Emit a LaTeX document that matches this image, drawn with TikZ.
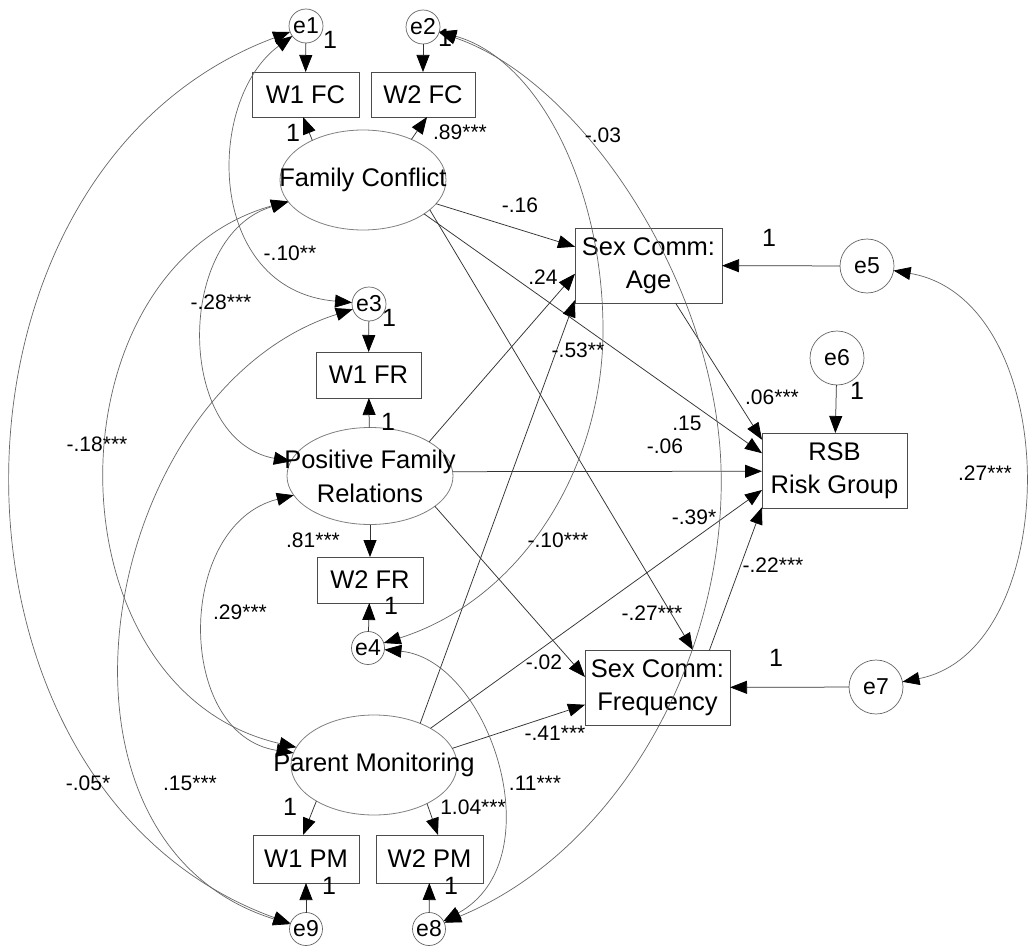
\documentclass[tikz,border=0pt]{standalone}
\usepackage{fontspec}
\setmainfont{Liberation Sans}
\usetikzlibrary{arrows.meta,shapes.geometric,calc}
\begin{document}
\begin{tikzpicture}[x=1pt,y=-1pt,
  >={Triangle[length=17pt,width=13pt,color=black]},
  obs/.style={draw=black!70, line width=0.8pt, rectangle, inner sep=0pt, outer sep=0pt, align=center, font=\fontsize{25.5}{33}\selectfont},
  lat/.style={draw=black!50, line width=0.8pt, ellipse, minimum width=166pt, minimum height=100pt, inner sep=0pt, outer sep=0pt},
  lab/.style={inner sep=0pt, align=center, font=\fontsize{25.5}{34}\selectfont},
  err/.style={draw=black!60, line width=0.7pt, circle, inner sep=0pt, outer sep=0pt},
  elab/.style={inner sep=0pt, font=\fontsize{23}{26}\selectfont},
  reg/.style={->, draw=black!80, line width=0.75pt},
  cov/.style={<->, draw=black!60, line width=0.7pt},
  coef/.style={inner sep=0pt, font=\fontsize{21}{24}\selectfont},
  fix/.style={inner sep=0pt, font=\fontsize{25}{28}\selectfont}]
\path[use as bounding box, fill=white] (0,0) rectangle (1028,947);

% observed boxes
\node[obs, minimum width=107pt, minimum height=45pt] (W1FC) at (305.5,94.5) {W1 FC};
\node[obs, minimum width=104pt, minimum height=45pt] (W2FC) at (423,94.5) {W2 FC};
\node[obs, minimum width=105pt, minimum height=46pt] (W1FR) at (368.5,375) {W1 FR};
\node[obs, minimum width=106pt, minimum height=46pt] (W2FR) at (370,580) {W2 FR};
\node[obs, minimum width=106pt, minimum height=48pt] (W1PM) at (306,859) {W1 PM};
\node[obs, minimum width=107pt, minimum height=48pt] (W2PM) at (429.5,859) {W2 PM};
\node[obs, minimum width=147pt, minimum height=75pt] (Age) at (648.5,265.5) {Sex Comm:\\Age};
\node[obs, minimum width=145pt, minimum height=75pt] (RSB) at (834.5,470.5) {RSB\\Risk Group};
\node[obs, minimum width=145pt, minimum height=75pt] (Freq) at (657.5,687.5) {Sex Comm:\\Frequency};

% latent ellipses
\node[lat, label={[lab]center:Family Conflict}] (FC) at (363,180) {};
\node[lat, minimum height=97pt, label={[lab]center:{Positive Family\\Relations}}] (PFR) at (370,476) {};
\node[lat, label={[lab]center:Parent Monitoring}] (PM) at (374,765) {};

% error terms
\node[err, minimum size=34pt, label={[elab]center:e1}] (e1) at (306,26) {};
\node[err, minimum size=34pt, label={[elab]center:e2}] (e2) at (423,27) {};
\node[err, minimum size=34pt, label={[elab]center:e3}] (e3) at (369,304) {};
\node[err, minimum size=33pt, label={[elab]center:e4}] (e4) at (368,648) {};
\node[err, minimum size=33pt, label={[elab]center:e9}] (e9) at (306,929) {};
\node[err, minimum size=33pt, label={[elab]center:e8}] (e8) at (429,929) {};
\node[err, minimum size=54pt, label={[elab]center:e5}] (e5) at (867,266) {};
\node[err, minimum size=54pt, label={[elab]center:e6}] (e6) at (837,358) {};
\node[err, minimum size=54pt, label={[elab]center:e7}] (e7) at (876,687) {};

% measurement paths
\draw[reg] (e1) -- (W1FC);
\draw[reg] (e2) -- (W2FC);
\draw[reg] (FC.142) -- ($(W1FC.south)+(-2.5,0)$);
\draw[reg] (FC.40) -- ($(W2FC.south)+(4,0)$);
\draw[reg] (e3) -- (W1FR);
\draw[reg] (PFR) -- (W1FR);
\draw[reg] (PFR) -- (W2FR);
\draw[reg] (e4) -- (W2FR);
\draw[reg] (PM.-148) -- ($(W1PM.north)+(-3,0)$);
\draw[reg] (PM.-36) -- ($(W2PM.north)+(8.5,0)$);
\draw[reg] (e9) -- (W1PM);
\draw[reg] (e8) -- (W2PM);
\draw[reg] (e5) -- (Age);
\draw[reg] (e6) -- (RSB);
\draw[reg] (e7) -- (Freq);

% structural paths
\draw[reg] (FC.-18) -- ($(Age.north west)!0.25!(Age.south west)$);
\draw[reg] (FC.-29) -- ($(RSB.north west)!0.27!(RSB.south west)$);
\draw[reg] (FC.-24) -- ($(Freq.north west)!0.745!(Freq.north east)$);
\draw[reg] (PFR.30) -- ($(Age.north west)!0.61!(Age.south west)$);
\draw[reg] (PFR.3) -- ($(RSB.north west)!0.51!(RSB.south west)$);
\draw[reg] (PFR.-25) -- ($(Freq.north west)!0.36!(Freq.south west)$);
\draw[reg] (PM.42) -- ($(Age.north west)!0.96!(Age.south west)$);
\draw[reg] (PM.33) -- ($(RSB.north west)!0.76!(RSB.south west)$);
\draw[reg] (PM.12) -- ($(Freq.north west)!0.73!(Freq.south west)$);
\draw[reg] ($(Age.south)+(27,0)$) -- ($(RSB.north west)!0.09!(RSB.south west)$);
\draw[reg] ($(Freq.north)+(52,0)$) -- ($(RSB.north west)!0.99!(RSB.south west)$);

% covariances
\draw[cov] (e1) .. controls (-80,170) and (-80,790) .. (e9);
\draw[cov] (e1) .. controls (205,100) and (205,290) .. (e3);
\draw[cov] (FC) .. controls (175,235) and (175,440) .. (PFR);
\draw[cov] (FC) .. controls (45,270) and (45,690) .. (PM);
\draw[cov] (PFR) .. controls (175,525) and (175,735) .. (PM);
\draw[cov] (e3) .. controls (100,390) and (20,840) .. (e9);
\draw[cov] (e2) .. controls (540,60) and (603,190) .. (603,330) .. controls (603,470) and (520,600) .. (e4);
\draw[cov] (e2) .. controls (580,80) and (715,280) .. (721,467) .. controls (727,654) and (620,850) .. (e8);
\draw[cov] (e4) .. controls (490,660) and (555,860) .. (e8);
\draw[cov] (e5) .. controls (1065,300) and (1065,650) .. (e7);

% fixed loadings
\node[fix] (l1) at (330,40) {1};
\node[fix] (l2) at (445,38) {1};
\node[fix] (l3) at (293,133) {1};
\node[fix] (l4) at (769,238) {1};
\node[fix] (l5) at (389,318) {1};
\node[fix] (l6) at (857,391) {1};
\node[fix] (l7) at (388,422) {1};
\node[fix] (l8) at (391,606) {1};
\node[fix] (l9) at (776,658) {1};
\node[fix] (l10) at (290,807) {1};
\node[fix] (l11) at (329,886) {1};
\node[fix] (l12) at (451,886) {1};

% coefficients
\node[coef] (c1) at (460,132) {.89***};
\node[coef] (c2) at (290,253) {-.10**};
\node[coef] (c3) at (520,205) {-.16};
\node[coef] (c4) at (603,135) {-.03};
\node[coef] (c5) at (543,277) {.24};
\node[coef] (c6) at (221,302) {-.28***};
\node[coef] (c7) at (578,350) {-.53**};
\node[coef] (c8) at (772,397) {.06***};
\node[coef] (c9) at (687,423) {.15};
\node[coef] (c10) at (97,444) {-.18***};
\node[coef] (c11) at (665,446) {-.06};
\node[coef] (c12) at (985,473) {.27***};
\node[coef] (c13) at (694,517) {-.39*};
\node[coef] (c14) at (313,540) {.81***};
\node[coef] (c15) at (558,540) {-.10***};
\node[coef] (c16) at (773,565) {-.22***};
\node[coef] (c17) at (240,612) {.29***};
\node[coef] (c18) at (652,613) {-.27***};
\node[coef] (c19) at (544,662) {-.02};
\node[coef] (c20) at (555,733) {-.41***};
\node[coef] (c21) at (535,783) {.11***};
\node[coef] (c22) at (88,783) {-.05*};
\node[coef] (c23) at (190,783) {.15***};
\node[coef] (c24) at (473,807) {1.04***};
\end{tikzpicture}
\end{document}
